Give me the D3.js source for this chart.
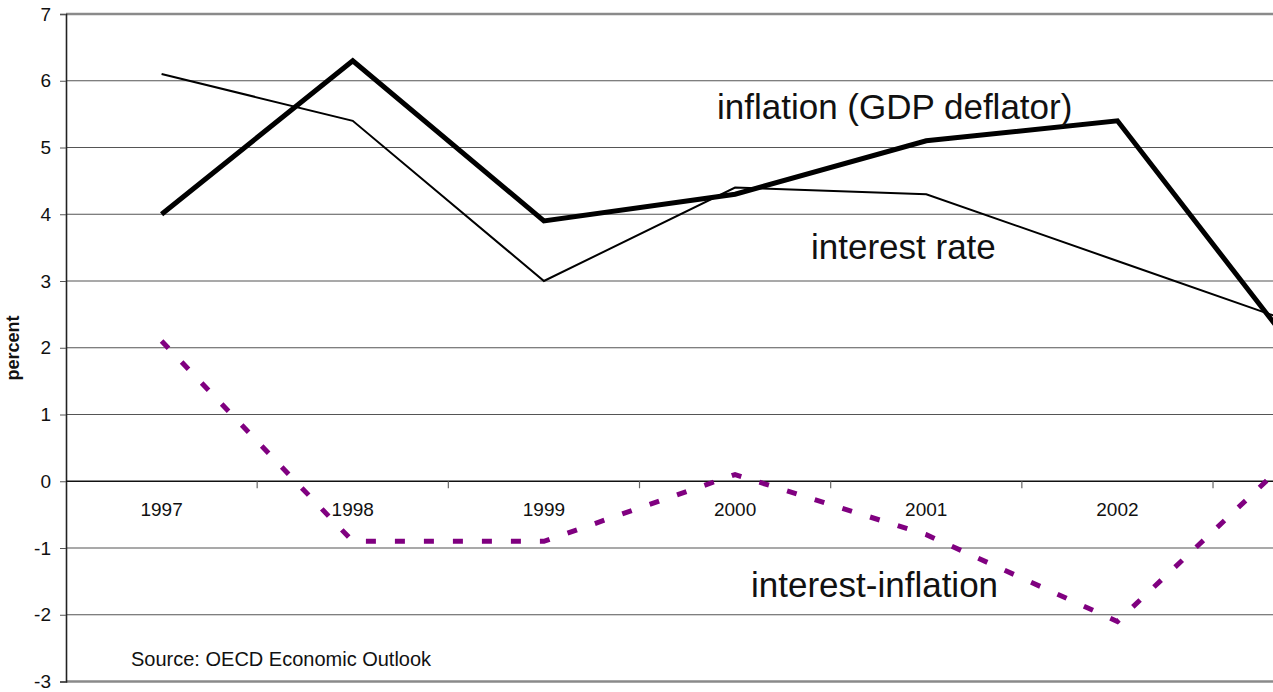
<!DOCTYPE html>
<html>
<head>
<meta charset="utf-8">
<script src="https://cdn.jsdelivr.net/npm/d3@7"></script>
<style>
  html, body { margin: 0; padding: 0; background: #fff; }
  svg { display: block; font-family: Arial, "Liberation Sans", sans-serif; }
</style>
</head>
<body>
<svg id="chart" width="1273" height="692"></svg>
<script>
// Years on the category axis
const years = ["1997", "1998", "1999", "2000", "2001", "2002", "2003"];
// Series values, percent
const interestRate = [6.1, 5.4, 3.0, 4.4, 4.3, 3.3, 2.3];
const inflation = [4.0, 6.3, 3.9, 4.3, 5.1, 5.4, 1.7];
const interestMinusInflation = [2.1, -0.9, -0.9, 0.1, -0.8, -2.1, 0.6];
// Value axis ticks
const yTicks = [-3, -2, -1, 0, 1, 2, 3, 4, 5, 6, 7];

(function () {
  const svg = d3.select("#chart");
  const W = 1273;

  const plotLeft = 66, plotTop = 14, plotBottom = 681.5;
  const band = 191.17;

  const x = d3.scaleBand().domain(years).range([plotLeft, plotLeft + band * years.length]).padding(0);
  const y = d3.scaleLinear().domain([-3, 7]).range([plotBottom, plotTop]);
  const cx = d => x(d) + x.bandwidth() / 2;

  // horizontal gridlines
  svg.append("g").selectAll("line")
    .data(yTicks.filter(t => t !== 0 && t !== 7 && t !== -3))
    .join("line")
    .attr("x1", plotLeft).attr("x2", W)
    .attr("y1", d => y(d)).attr("y2", d => y(d))
    .attr("stroke", "#555").attr("stroke-width", 1.2);

  // top and bottom frame lines
  svg.append("g").selectAll("line")
    .data([7, -3])
    .join("line")
    .attr("x1", plotLeft).attr("x2", W)
    .attr("y1", d => y(d)).attr("y2", d => y(d))
    .attr("stroke", "#8a8a8a").attr("stroke-width", 2.5);

  // value axis
  const yAxis = d3.axisLeft(y).tickValues(yTicks).tickSize(6).tickPadding(9);
  const gy = svg.append("g").attr("transform", `translate(${plotLeft},0)`).call(yAxis);
  gy.select(".domain").attr("stroke", "#222").attr("stroke-width", 1.6);
  gy.selectAll(".tick line").attr("stroke", "#555");
  gy.selectAll(".tick text").attr("font-size", 19).attr("fill", "#111")
    .attr("font-family", "Arial, 'Liberation Sans', sans-serif")
    .text(d => d < 0 ? "-" + Math.abs(d) : String(d));

  // category axis on the zero line
  svg.append("line")
    .attr("x1", plotLeft).attr("x2", W)
    .attr("y1", y(0)).attr("y2", y(0))
    .attr("stroke", "#111").attr("stroke-width", 1.4);

  svg.append("g").selectAll("line")
    .data(years.slice(1).filter(d => x(d) <= W))
    .join("line")
    .attr("x1", d => x(d)).attr("x2", d => x(d))
    .attr("y1", y(0)).attr("y2", y(0) + 7)
    .attr("stroke", "#666").attr("stroke-width", 1.2);

  // year labels, only those whose slot lies inside the view
  svg.append("g").selectAll("text")
    .data(years.filter(d => cx(d) + 30 <= W))
    .join("text")
    .attr("x", d => cx(d)).attr("y", y(0) + 35)
    .attr("text-anchor", "middle")
    .attr("font-size", 19).attr("fill", "#111")
    .text(d => d);

  // axis title
  svg.append("text")
    .attr("transform", "translate(19,348) rotate(-90)")
    .attr("text-anchor", "middle")
    .attr("font-size", 18).attr("font-weight", "bold").attr("fill", "#111")
    .text("percent");

  // series lines
  const line = vals => d3.line().x((d, i) => cx(years[i])).y(d => y(d))(vals);

  svg.append("path")
    .attr("d", line(interestRate))
    .attr("fill", "none").attr("stroke", "#000").attr("stroke-width", 2)
    .attr("stroke-linejoin", "miter");

  svg.append("path")
    .attr("d", line(inflation))
    .attr("fill", "none").attr("stroke", "#000").attr("stroke-width", 5)
    .attr("stroke-linejoin", "miter");

  svg.append("path")
    .attr("d", line(interestMinusInflation))
    .attr("fill", "none").attr("stroke", "#800080").attr("stroke-width", 5)
    .attr("stroke-dasharray", "10 19");

  // series labels
  const labels = [
    { text: "inflation (GDP deflator)", x: 717, y: 119 },
    { text: "interest rate", x: 811, y: 259 },
    { text: "interest-inflation", x: 751, y: 597 }
  ];
  svg.append("g").selectAll("text")
    .data(labels)
    .join("text")
    .attr("x", d => d.x).attr("y", d => d.y)
    .attr("font-size", 35).attr("fill", "#111")
    .text(d => d.text);

  // source note
  svg.append("text")
    .attr("x", 131).attr("y", 666)
    .attr("font-size", 20).attr("fill", "#111")
    .text("Source: OECD Economic Outlook");
})();
</script>
</body>
</html>
